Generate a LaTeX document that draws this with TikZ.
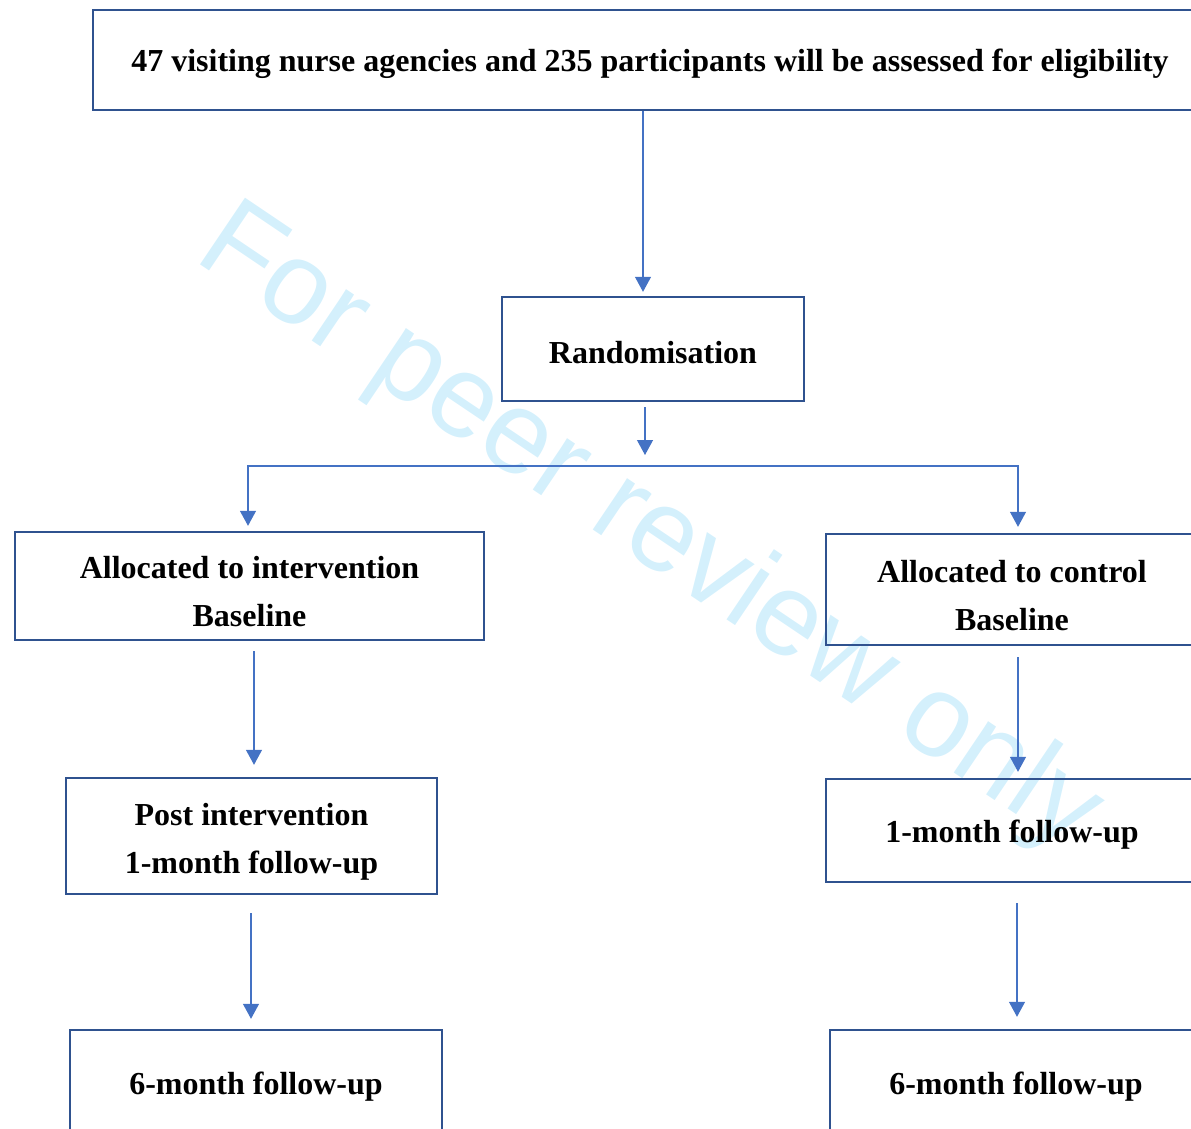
\documentclass[tikz,border=0pt]{standalone}
\usepackage{fontspec}
\setmainfont{Liberation Serif}
\newfontfamily\wmfont{Liberation Sans}
\usetikzlibrary{arrows.meta, positioning, calc}
\definecolor{boxblue}{HTML}{2F528F}
\definecolor{arrblue}{HTML}{4472C4}
\definecolor{wmblue}{HTML}{D4F0FC}

\begin{document}
\begin{tikzpicture}[x=1pt,y=-1pt,
            flowbox/.style={draw=boxblue, line width=2.4pt, align=center,
                inner sep=0pt, text height=30pt,
                font=\fontsize{32}{48}\selectfont\bfseries},
            twoline/.style={text height=82pt},
            arr/.style={-{Triangle[width=16pt,length=15pt]}, draw=arrblue,
                line width=1.2pt}]
            \useasboundingbox (0,0) rectangle (1191,1128);
            \clip (0,0) rectangle (1191,1128);

            % watermark
            \node[anchor=base, rotate=-34, text=wmblue,
                font=\wmfont\fontsize{117}{117}\selectfont] (wm) at (632,556) {For peer review only};

            \node[flowbox, minimum width=1114pt, minimum height=100pt] (assess) at (650,60)
                {47 visiting nurse agencies and 235 participants will be assessed for eligibility};
            \node[flowbox, minimum width=302pt, minimum height=104pt] (rand) at (653,349) {Randomisation};

            \node[flowbox, twoline, minimum width=469pt, minimum height=108pt] (intA) at (249.5,586)
                {Allocated to intervention\\Baseline};
            \node[flowbox, twoline, minimum width=372pt, minimum height=111pt] (conA) at (1012,589.5)
                {Allocated to control\\Baseline};
            \node[flowbox, twoline, minimum width=371pt, minimum height=116pt] (intB) at (251.5,836)
                {Post intervention\\1-month follow-up};
            \node[flowbox, minimum width=372pt, minimum height=103pt] (conB) at (1012,830.5)
                {1-month follow-up};
            \node[flowbox, minimum width=372pt, minimum height=106pt] (intC) at (256,1083)
                {6-month follow-up};
            \node[flowbox, minimum width=372pt, minimum height=106pt] (conC) at (1016,1083)
                {6-month follow-up};

            \coordinate (split) at (645,466);

            \draw[arr] (assess.south -| 643,0) -- ([yshift=4pt]rand.north -| 643,0);
            \draw[arr] ([yshift=-5pt]rand.south -| split) -- ([yshift=11pt]split);
            \draw[arr] (split) -| ([yshift=5pt]intA.north -| 248,0);
            \draw[arr] (split) -| ([yshift=6pt]conA.north -| 1018,0);
            \draw[arr] ([yshift=-10pt]intA.south -| 254,0) -- ([yshift=12pt]intB.north -| 254,0);
            \draw[arr] ([yshift=-11pt]conA.south -| 1018,0) -- ([yshift=6pt]conB.north -| 1018,0);
            \draw[arr] ([yshift=-18pt]intB.south -| 251,0) -- ([yshift=10pt]intC.north -| 251,0);
            \draw[arr] ([yshift=-20pt]conB.south -| 1017,0) -- ([yshift=12pt]conC.north -| 1017,0);
            \end{tikzpicture}
\end{document}
